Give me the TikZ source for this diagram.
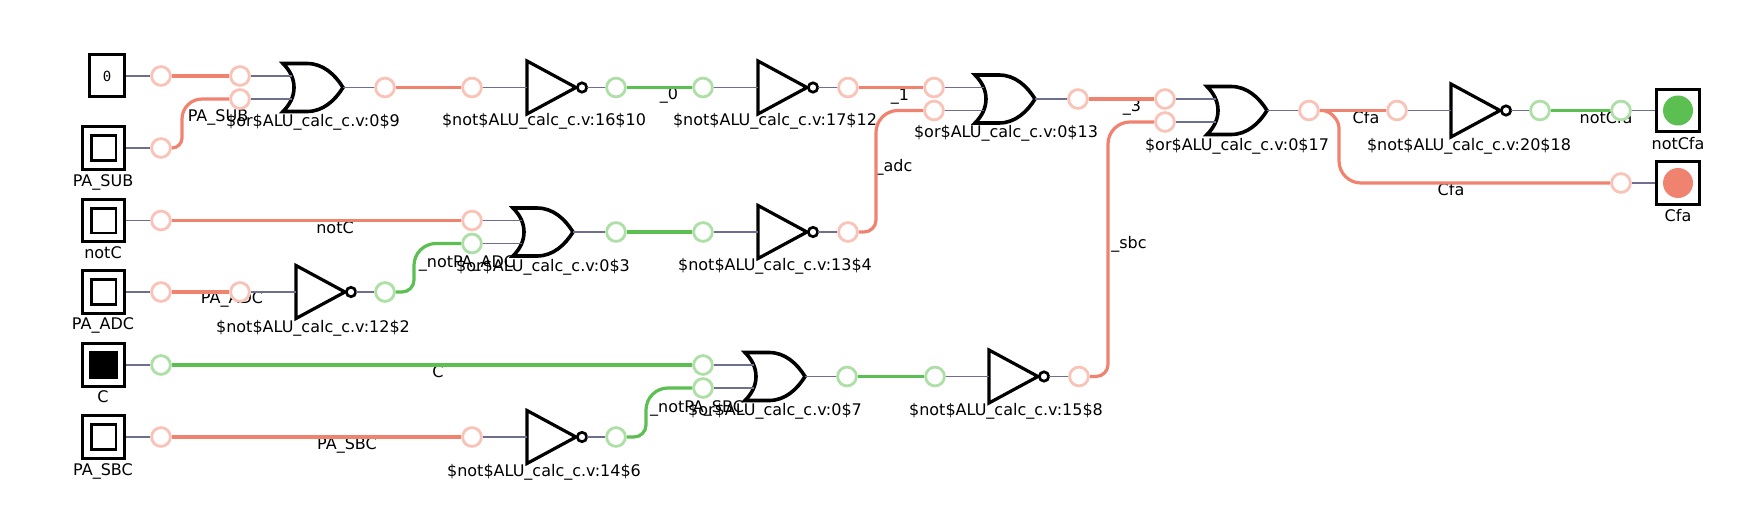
\documentclass[tikz,border=0pt]{standalone}
\usepackage{fontspec}
\setmainfont{DejaVu Sans}
\setmonofont{DejaVu Sans Mono}
\usepackage{xcolor}
\definecolor{hotred}{HTML}{F08270}
\definecolor{palered}{HTML}{F9C3B8}
\definecolor{hotgreen}{HTML}{5CBF52}
\definecolor{palegreen}{HTML}{ADDFA6}
\definecolor{stub}{HTML}{6E6E8E}
\usetikzlibrary{positioning}
\tikzset{
  orgate/.pic={
    \draw[line width=1.8pt, line join=miter, fill=white] (0,-24) .. controls (7,-17) and (11,-9) .. (11,0) .. controls (11,9) and (7,17) .. (0,24) -- (24,24) .. controls (40,24) and (52,13) .. (60,0) .. controls (52,-13) and (40,-24) .. (24,-24) -- cycle;
    \coordinate (-a) at (9,-11.5);
    \coordinate (-b) at (9,11.5);
    \coordinate (-o) at (60,0);
  },
  notgate/.pic={
    \draw[line width=1.6pt, fill=white] (0,-26.5) -- (49,0) -- (0,26.5) -- cycle;
    \draw[line width=1.35pt, fill=white] (55,0) circle (2.35pt);
    \coordinate (-a) at (0,0);
    \coordinate (-o) at (60,0);
  },
}

\begin{document}
\begin{tikzpicture}[x=0.5pt,y=-0.5pt,
                    redpin/.style={circle, draw=palered, line width=1.4pt, fill=white, inner sep=0pt, minimum size=9.4pt},
                    greenpin/.style={circle, draw=palegreen, line width=1.4pt, fill=white, inner sep=0pt, minimum size=9.4pt},
                    redwire/.style={hotred, line width=1.6pt, rounded corners=11pt},
                    greenwire/.style={hotgreen, line width=1.6pt, rounded corners=11pt},
                    stubwire/.style={stub, line width=0.85pt},
                    outerbox/.style={draw, line width=1.5pt, fill=white, inner sep=0pt, minimum size=21.3pt},
                    innerbox/.style={draw, line width=1.4pt, fill=white, inner sep=0pt, minimum size=12.4pt},
                    onbox/.style={innerbox, fill=black, minimum size=13pt},
                    lbl/.style={inner sep=0pt, font=\fontsize{8}{9}\selectfont},
                   ]

\useasboundingbox (0,0) rectangle (1755,519);

% inputs
\node[draw, line width=1.5pt, inner sep=0pt, minimum width=17.5pt, minimum height=21pt, font=\ttfamily\fontsize{7}{8}\selectfont] (zero) at (107,76) {0};
\node[outerbox] (pasub) at (103.5,148) {};
\node[innerbox] (pasubin) at (103.5,148) {};
\node[outerbox] (notc) at (103.5,220.5) {};
\node[innerbox] (notcin) at (103.5,220.5) {};
\node[outerbox] (paadc) at (103.5,292) {};
\node[innerbox] (paadcin) at (103.5,292) {};
\node[outerbox] (cin) at (103.5,365) {};
\node[onbox] (cinin) at (103.5,365) {};
\node[outerbox] (pasbc) at (103.5,437) {};
\node[innerbox] (pasbcin) at (103.5,437) {};

% outputs
\node[outerbox] (notcfa) at (1678,110.5) {};
\node[circle, fill=hotgreen, inner sep=0pt, minimum size=15pt] (notcfain) at (1678,110.5) {};
\node[outerbox] (cfa) at (1678,183) {};
\node[circle, fill=hotred, inner sep=0pt, minimum size=15pt] (cfain) at (1678,183) {};

% gates
\pic (or9) at (283,87.5) {orgate};
\pic (or3) at (513,232) {orgate};
\pic (or7) at (745,376.5) {orgate};
\pic (or13) at (975,99) {orgate};
\pic (or17) at (1207,110.5) {orgate};
\pic (not2) at (296,292) {notgate};
\pic (not10) at (527,87.5) {notgate};
\pic (not12) at (758,87.5) {notgate};
\pic (not4) at (758,232) {notgate};
\pic (not8) at (989,376.5) {notgate};
\pic (not6) at (527,437) {notgate};
\pic (not18) at (1451,110.5) {notgate};

% net names
\node[lbl] (t1) at (218,117) {PA\_SUB};
\node[lbl] (t2) at (669,95) {\_0};
\node[lbl] (t3) at (900,97) {\_1};
\node[lbl] (t4) at (1132,107) {\_3};
\node[lbl] (t5) at (894,167) {\_adc};
\node[lbl] (t6) at (1129,244) {\_sbc};
\node[lbl] (t7) at (1366,118) {Cfa};
\node[lbl] (t8) at (1451,190) {Cfa};
\node[lbl] (t9) at (1606,118) {notCfa};
\node[lbl] (t10) at (335,228) {notC};
\node[lbl] (t11) at (467,263) {\_notPA\_ADC};
\node[lbl] (t12) at (232,299) {PA\_ADC};
\node[lbl] (t13) at (438,372) {C};
\node[lbl] (t14) at (697,408) {\_notPA\_SBC};
\node[lbl] (t15) at (347,445) {PA\_SBC};

% pins
\node[redpin] (p1) at (161,76) {};
\node[redpin] (p2) at (240,76) {};
\node[redpin] (p3) at (240,99) {};
\node[redpin] (p4) at (161,148) {};
\node[redpin] (p5) at (385,87.5) {};
\node[redpin] (p6) at (472,87.5) {};
\node[greenpin] (p7) at (616,87.5) {};
\node[greenpin] (p8) at (703,87.5) {};
\node[redpin] (p9) at (848,87.5) {};
\node[redpin] (p10) at (934,87.5) {};
\node[redpin] (p11) at (934,110.5) {};
\node[redpin] (p12) at (1078,99) {};
\node[redpin] (p13) at (1165,99) {};
\node[redpin] (p14) at (1165,122) {};
\node[redpin] (p15) at (1309,110.5) {};
\node[redpin] (p16) at (1397,110.5) {};
\node[greenpin] (p17) at (1540,110.5) {};
\node[greenpin] (p18) at (1621,110.5) {};
\node[redpin] (p19) at (1621,183) {};
\node[redpin] (p20) at (161,220.5) {};
\node[redpin] (p21) at (472,220.5) {};
\node[greenpin] (p22) at (472,243.5) {};
\node[redpin] (p23) at (161,292) {};
\node[redpin] (p24) at (240,292) {};
\node[greenpin] (p25) at (385,292) {};
\node[greenpin] (p26) at (616,232) {};
\node[greenpin] (p27) at (703,232) {};
\node[redpin] (p28) at (848,232) {};
\node[greenpin] (p29) at (161,365) {};
\node[greenpin] (p30) at (703,365) {};
\node[greenpin] (p31) at (703,388) {};
\node[greenpin] (p32) at (847,376.5) {};
\node[greenpin] (p33) at (935,376.5) {};
\node[redpin] (p34) at (1079,376.5) {};
\node[redpin] (p35) at (161,437) {};
\node[redpin] (p36) at (472,437) {};
\node[greenpin] (p37) at (616,437) {};

% stubs
\draw[stubwire] (zero) -- (p1);
\draw[stubwire] (pasub) -- (p4);
\draw[stubwire] (notc) -- (p20);
\draw[stubwire] (paadc) -- (p23);
\draw[stubwire] (cin) -- (p29);
\draw[stubwire] (pasbc) -- (p35);
\draw[stubwire] (p2) -- (or9-a);
\draw[stubwire] (p3) -- (or9-b);
\draw[stubwire] (or9-o) -- (p5);
\draw[stubwire] (p6) -- (not10-a);
\draw[stubwire] (not10-o) -- (p7);
\draw[stubwire] (p8) -- (not12-a);
\draw[stubwire] (not12-o) -- (p9);
\draw[stubwire] (p10) -- (or13-a);
\draw[stubwire] (p11) -- (or13-b);
\draw[stubwire] (or13-o) -- (p12);
\draw[stubwire] (p13) -- (or17-a);
\draw[stubwire] (p14) -- (or17-b);
\draw[stubwire] (or17-o) -- (p15);
\draw[stubwire] (p16) -- (not18-a);
\draw[stubwire] (not18-o) -- (p17);
\draw[stubwire] (p18) -- (notcfa);
\draw[stubwire] (p19) -- (cfa);
\draw[stubwire] (p21) -- (or3-a);
\draw[stubwire] (p22) -- (or3-b);
\draw[stubwire] (or3-o) -- (p26);
\draw[stubwire] (p27) -- (not4-a);
\draw[stubwire] (not4-o) -- (p28);
\draw[stubwire] (p24) -- (not2-a);
\draw[stubwire] (not2-o) -- (p25);
\draw[stubwire] (p30) -- (or7-a);
\draw[stubwire] (p31) -- (or7-b);
\draw[stubwire] (or7-o) -- (p32);
\draw[stubwire] (p33) -- (not8-a);
\draw[stubwire] (not8-o) -- (p34);
\draw[stubwire] (p36) -- (not6-a);
\draw[stubwire] (not6-o) -- (p37);

% nets
\draw[redwire] (p1) -- (p2);
\draw[redwire] (p4.east) [rounded corners=5pt] -- (182,148) [rounded corners=10pt] -- (182,99) -- (p3.west);
\draw[redwire] (p5) -- (p6);
\draw[greenwire] (p7) -- (p8);
\draw[redwire] (p9) -- (p10);
\draw[redwire] (p12) -- (p13);
\draw[redwire] (p15) -- (p16);
\draw[greenwire] (p17) -- (p18);
\draw[redwire] (p15.east) [rounded corners=3pt] -- (1328,110.5) -- (1339,122) [rounded corners=11pt] -- (1339,183) -- (p19.west);
\draw[redwire] (p20) -- (p21);
\draw[redwire] (p23) -- (p24);
\draw[greenwire] (p25.east) [rounded corners=6pt] -- (414,292) [rounded corners=11pt] -- (414,243.5) -- (p22.west);
\draw[greenwire] (p26) -- (p27);
\draw[redwire] (p28.east) [rounded corners=6pt] -- (876,232) [rounded corners=11pt] -- (876,110.5) -- (p11.west);
\draw[greenwire] (p29) -- (p30);
\draw[greenwire] (p32) -- (p33);
\draw[redwire] (p34.east) [rounded corners=6pt] -- (1108,376.5) [rounded corners=11pt] -- (1108,122) -- (p14.west);
\draw[redwire] (p35) -- (p36);
\draw[greenwire] (p37.east) [rounded corners=6pt] -- (646,437) [rounded corners=11pt] -- (646,388) -- (p31.west);

% cell names
\node[lbl] (c1) at (313,122) {\$or\$ALU\_calc\_c.v:0\$9};
\node[lbl] (c2) at (543,267) {\$or\$ALU\_calc\_c.v:0\$3};
\node[lbl] (c3) at (775,411) {\$or\$ALU\_calc\_c.v:0\$7};
\node[lbl] (c4) at (1006,133) {\$or\$ALU\_calc\_c.v:0\$13};
\node[lbl] (c5) at (1237,146) {\$or\$ALU\_calc\_c.v:0\$17};
\node[lbl] (c6) at (544,121) {\$not\$ALU\_calc\_c.v:16\$10};
\node[lbl] (c7) at (775,121) {\$not\$ALU\_calc\_c.v:17\$12};
\node[lbl] (c8) at (775,266) {\$not\$ALU\_calc\_c.v:13\$4};
\node[lbl] (c9) at (313,328) {\$not\$ALU\_calc\_c.v:12\$2};
\node[lbl] (c10) at (1006,411) {\$not\$ALU\_calc\_c.v:15\$8};
\node[lbl] (c11) at (544,472) {\$not\$ALU\_calc\_c.v:14\$6};
\node[lbl] (c12) at (1469,146) {\$not\$ALU\_calc\_c.v:20\$18};

% port names
\node[lbl] (n1) at (103,182) {PA\_SUB};
\node[lbl] (n2) at (103,253) {notC};
\node[lbl] (n3) at (103,325) {PA\_ADC};
\node[lbl] (n4) at (103,397) {C};
\node[lbl] (n5) at (103,471) {PA\_SBC};
\node[lbl] (n6) at (1678,144) {notCfa};
\node[lbl] (n7) at (1678,216) {Cfa};

\end{tikzpicture}
\end{document}
